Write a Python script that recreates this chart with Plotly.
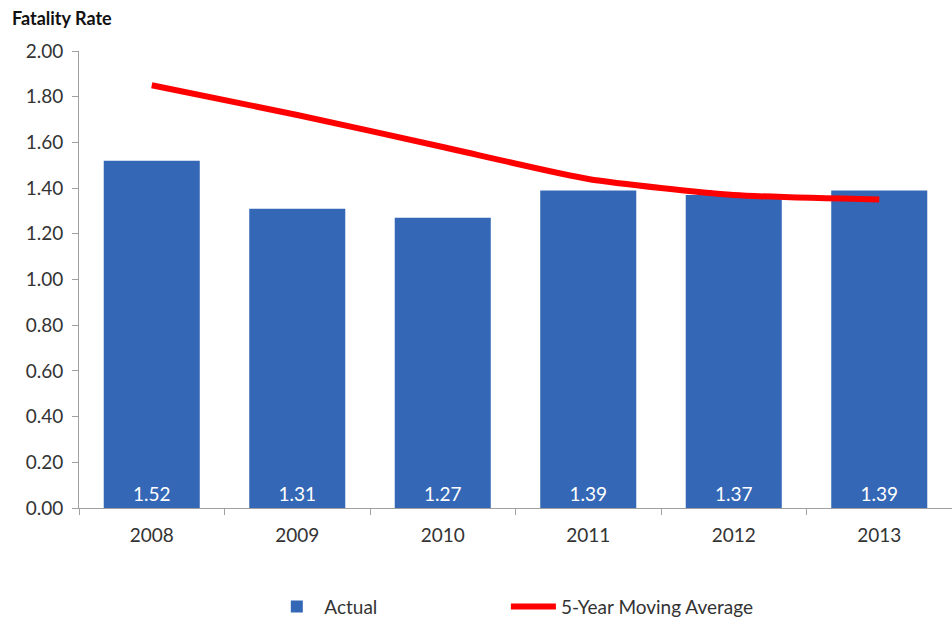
import plotly.graph_objects as go

years = ["2008", "2009", "2010", "2011", "2012", "2013"]
actual = [1.52, 1.31, 1.27, 1.39, 1.37, 1.39]
moving_avg = [1.85, 1.72, 1.58, 1.44, 1.37, 1.35]
y_ticks = [0, 0.2, 0.4, 0.6, 0.8, 1.0, 1.2, 1.4, 1.6, 1.8, 2.0]

FONT = "Lato, Open Sans, sans-serif"

fig = go.Figure()
fig.add_trace(go.Bar(
    x=years, y=actual, name="Actual", legend="legend",
    marker=dict(color="#3468b6", line=dict(width=0)),
    text=[f"{v:.2f}" for v in actual],
    textposition="inside", insidetextanchor="start",
    textfont=dict(color="white", size=19, family=FONT),
    constraintext="none",
))
fig.add_trace(go.Scatter(
    x=years, y=moving_avg, name="5-Year Moving Average", legend="legend2",
    mode="lines", line=dict(color="#ff0000", width=6, shape="spline", smoothing=0.6),
))

legend_common = dict(orientation="h", xanchor="left", yanchor="middle", y=-0.216,
                     itemwidth=45, font=dict(size=19, family=FONT, color="#333333"),
                     bgcolor="rgba(0,0,0,0)")

fig.update_layout(
    width=952, height=623,
    margin=dict(l=79, r=0, t=51, b=115, autoexpand=False),
    plot_bgcolor="white", paper_bgcolor="white",
    bargap=0.34,
    font=dict(family=FONT, size=19, color="#333333"),
    showlegend=True,
    legend=dict(x=0.218, **legend_common),
    legend2=dict(x=0.489, **legend_common),
)
fig.add_annotation(text="<b>Fatality Rate</b>", xref="paper", yref="paper",
                   x=(10 - 79) / 873, y=1 + 33 / 457, xanchor="left", yanchor="middle",
                   showarrow=False, font=dict(size=18, family=FONT, color="#111111"))

fig.update_yaxes(range=[0, 2.0], tickvals=y_ticks, tickformat=".2f",
                 showgrid=False, zeroline=False, showline=True, linecolor="#a0a0a0",
                 linewidth=1, ticks="outside", ticklen=6, tickcolor="#a0a0a0",
                 ticklabelstandoff=5,
                 tickfont=dict(size=19, color="#333333"), automargin=False)
fig.update_xaxes(showgrid=False, showline=True, linecolor="#a0a0a0", linewidth=1,
                 ticks="outside", ticklen=6, tickcolor="#a0a0a0", tickson="boundaries",
                 ticklabelstandoff=10,
                 tickfont=dict(size=19, color="#333333"), range=[-0.5, 5.5],
                 automargin=False)

fig.write_html("out.html", config={"displayModeBar": False},
               post_script="document.body.style.margin='0';document.body.style.overflow='hidden';")
